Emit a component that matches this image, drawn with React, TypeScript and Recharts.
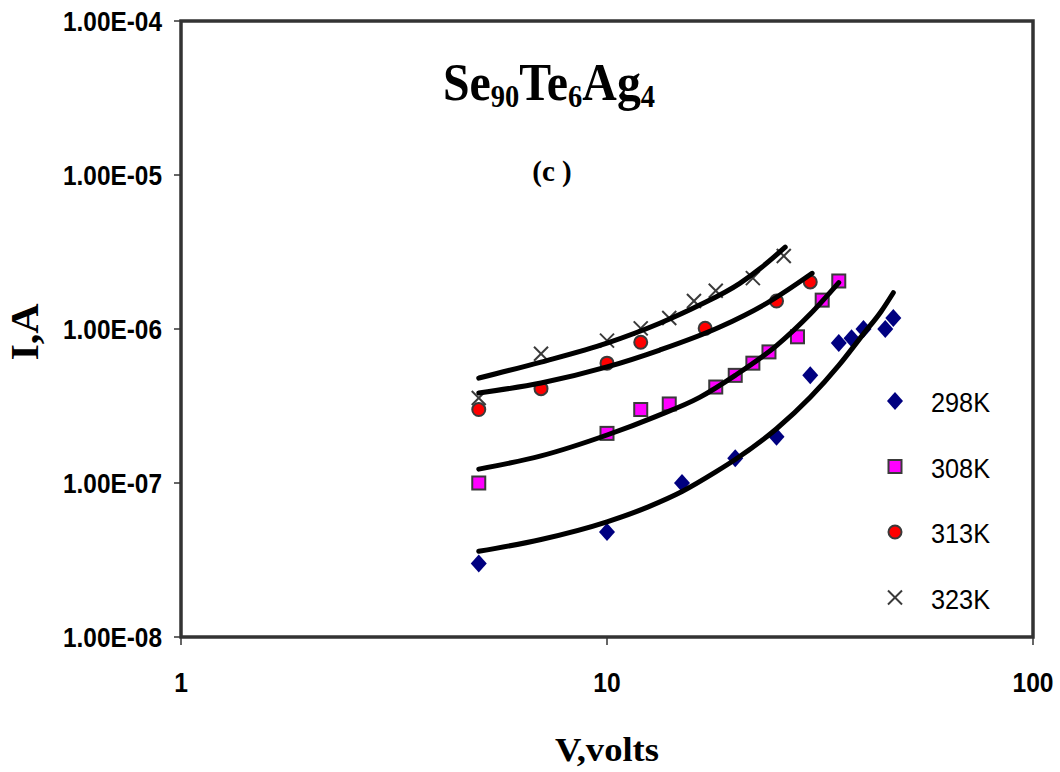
import React from "react";
import {
    ComposedChart,
    Scatter,
    XAxis,
    YAxis,
    ReferenceArea,
    Legend,
    Customized,
} from "recharts";

// measured points (V in volts, I in amps)
const v298 = [5, 10, 15, 20, 25, 30, 35, 37.5, 40, 45, 47];
const i298 = [3e-8, 4.8e-8, 1e-7, 1.45e-7, 2e-7, 5e-7, 8.1e-7, 8.7e-7, 1e-6, 1e-6, 1.18e-6];

const v308 = [5, 10, 12, 14, 18, 20, 22, 24, 28, 32, 35];
const i308 = [1e-7, 2.1e-7, 3e-7, 3.26e-7, 4.2e-7, 5e-7, 6e-7, 7.1e-7, 8.9e-7, 1.54e-6, 2.05e-6];

const v313 = [5, 7, 10, 12, 17, 25, 30];
const i313 = [3e-7, 4.1e-7, 6e-7, 8.2e-7, 1.01e-6, 1.52e-6, 2.02e-6];

const v323 = [5, 7, 10, 12, 14, 16, 18, 22, 26];
const i323 = [3.56e-7, 6.9e-7, 8.4e-7, 1.01e-6, 1.18e-6, 1.52e-6, 1.77e-6, 2.14e-6, 2.98e-6];

// fitted curves
const fitV298 = [5, 7, 10, 12.5, 15, 18, 20, 25, 30, 35, 40, 44, 47];
const fitI298 = [3.6e-8, 4.3e-8, 5.6e-8, 7.0e-8, 8.8e-8, 1.18e-7, 1.42e-7, 2.25e-7, 3.6e-7, 5.8e-7, 9.3e-7, 1.3e-6, 1.72e-6];

const fitV308 = [5, 7, 10, 13, 16.5, 20, 25, 30, 35];
const fitI308 = [1.23e-7, 1.5e-7, 2.05e-7, 2.7e-7, 3.6e-7, 5e-7, 7.8e-7, 1.25e-6, 2e-6];

const fitV313 = [5, 7, 10, 13.3, 18.4, 24, 30.3];
const fitI313 = [3.84e-7, 4.46e-7, 5.67e-7, 7.3e-7, 1.03e-6, 1.5e-6, 2.3e-6];

const fitV323 = [5, 7, 10, 13.3, 16.5, 20.5, 23, 26.2];
const fitI323 = [4.8e-7, 6.1e-7, 8.1e-7, 1.09e-6, 1.43e-6, 1.98e-6, 2.5e-6, 3.4e-6];

const xTicks = [1, 10, 100];
const yTicks = [1e-8, 1e-7, 1e-6, 1e-5, 1e-4];
const legendLabels = ["298K", "308K", "313K", "323K"];

const pts = (vs: number[], is: number[]) => vs.map((v, k) => ({ v, amp: is[k] }));

const SANS = "'Liberation Sans', Arial, sans-serif";
const SERIF = "'Liberation Serif', 'Times New Roman', serif";

const fmtE = (val: number) => {
    const e = Math.round(Math.log10(val));
    const sign = e < 0 ? "-" : "+";
    return `1.00E${sign}${String(Math.abs(e)).padStart(2, "0")}`;
};

const Diamond = ({ cx, cy }: any) => (
    <polygon
        points={`${cx},${cy - 9} ${cx + 8},${cy} ${cx},${cy + 9} ${cx - 8},${cy}`}
        fill="#000080"
    />
);
const Square = ({ cx, cy }: any) => (
    <rect x={cx - 6.5} y={cy - 6.5} width={13} height={13} fill="#ff00ff" stroke="#3a3a3a" strokeWidth={2} />
);
const Dot = ({ cx, cy }: any) => (
    <circle cx={cx} cy={cy} r={6.5} fill="#ff0000" stroke="#3a3a3a" strokeWidth={2} />
);
const Cross = ({ cx, cy }: any) => (
    <g stroke="#3a3a3a" strokeWidth={2}>
        <line x1={cx - 7} y1={cy - 7} x2={cx + 7} y2={cy + 7} />
        <line x1={cx - 7} y1={cy + 7} x2={cx + 7} y2={cy - 7} />
    </g>
);
const NoDot = () => <g />;

const YTick = ({ x, y, payload }: any) => (
    <text
        x={x}
        y={y}
        dy={10}
        textAnchor="end"
        fontFamily={SANS}
        fontWeight="bold"
        fontSize={28}
        textLength={99}
        lengthAdjust="spacingAndGlyphs"
        fill="#000"
    >
        {fmtE(payload.value)}
    </text>
);

const XTick = ({ x, y, payload }: any) => {
    const s = String(payload.value);
    return (
        <text
            x={x}
            y={y}
            dy={20}
            textAnchor="middle"
            fontFamily={SANS}
            fontWeight="bold"
            fontSize={28}
            textLength={13.7 * s.length}
            lengthAdjust="spacingAndGlyphs"
            fill="#000"
        >
            {s}
        </text>
    );
};

const Titles = () => (
    <g fontFamily={SERIF} fontWeight="bold" fill="#000">
        <g transform="translate(443,100) scale(0.92,1)">
            <text x={0} y={0} fontSize={52}>
                Se
                <tspan fontSize={31} dy={7}>90</tspan>
                <tspan dy={-7}>Te</tspan>
                <tspan fontSize={31} dy={7}>6</tspan>
                <tspan dy={-7}>Ag</tspan>
                <tspan fontSize={31} dy={7}>4</tspan>
            </text>
        </g>
        <text x={552} y={181} fontSize={29} textAnchor="middle">
            (c )
        </text>
        <text
            x={607}
            y={761}
            fontSize={34}
            textAnchor="middle"
            textLength={104}
            lengthAdjust="spacingAndGlyphs"
        >
            V,volts
        </text>
        <text
            transform="translate(38,332) rotate(-90)"
            x={0}
            y={0}
            fontSize={40}
            textAnchor="middle"
            textLength={57}
            lengthAdjust="spacingAndGlyphs"
        >
            I,A
        </text>
    </g>
);

const legendShapes = [Diamond, Square, Dot, Cross];

const LegendBox = () => (
    <svg width={160} height={240}>
        {legendLabels.map((lab, k) => {
            const Shape = legendShapes[k];
            const cy = 16 + k * 65.5;
            return (
                <g key={lab}>
                    <Shape cx={15} cy={cy} />
                    <text
                        x={51}
                        y={cy + 11}
                        fontFamily={SANS}
                        fontSize={28}
                        textLength={59}
                        lengthAdjust="spacingAndGlyphs"
                        fill="#000"
                    >
                        {lab}
                    </text>
                </g>
            );
        })}
    </svg>
);

const fitLine = { stroke: "#000", strokeWidth: 5, strokeLinejoin: "round" as const, strokeLinecap: "round" as const };

export default function App() {
    return (
        <div style={{ position: "absolute", left: 0, top: 0, width: 1060, height: 772, background: "#fff" }}>
            <ComposedChart
                width={1060}
                height={772}
                margin={{ top: 21, right: 27, bottom: 0, left: 0 }}
            >
                <XAxis
                    dataKey="v"
                    type="number"
                    scale="log"
                    domain={[1, 100]}
                    ticks={xTicks}
                    allowDataOverflow
                    height={135}
                    axisLine={false}
                    tickLine={{ stroke: "#333", strokeWidth: 1.5 }}
                    tickSize={8}
                    tickMargin={27}
                    tick={<XTick />}
                />
                <YAxis
                    dataKey="amp"
                    type="number"
                    scale="log"
                    domain={[1e-8, 1e-4]}
                    ticks={yTicks}
                    allowDataOverflow
                    width={181}
                    axisLine={false}
                    tickLine={{ stroke: "#333", strokeWidth: 1.5 }}
                    tickSize={7}
                    tickMargin={12}
                    tick={<YTick />}
                />
                <ReferenceArea
                    x1={1}
                    x2={100}
                    y1={1e-8}
                    y2={1e-4}
                    fill="none"
                    fillOpacity={0}
                    stroke="#333"
                    strokeWidth={3.5}
                />
                <Scatter name="298K" data={pts(v298, i298)} shape={Diamond} isAnimationActive={false} />
                <Scatter name="308K" data={pts(v308, i308)} shape={Square} isAnimationActive={false} />
                <Scatter name="313K" data={pts(v313, i313)} shape={Dot} isAnimationActive={false} />
                <Scatter name="323K" data={pts(v323, i323)} shape={Cross} isAnimationActive={false} />
                <Scatter data={pts(fitV298, fitI298)} line={fitLine} lineJointType="monotoneX" shape={NoDot} legendType="none" isAnimationActive={false} />
                <Scatter data={pts(fitV308, fitI308)} line={fitLine} lineJointType="monotoneX" shape={NoDot} legendType="none" isAnimationActive={false} />
                <Scatter data={pts(fitV313, fitI313)} line={fitLine} lineJointType="monotoneX" shape={NoDot} legendType="none" isAnimationActive={false} />
                <Scatter data={pts(fitV323, fitI323)} line={fitLine} lineJointType="monotoneX" shape={NoDot} legendType="none" isAnimationActive={false} />
                <Customized component={Titles} />
                <Legend
                    layout="horizontal"
                    verticalAlign="middle"
                    align="center"
                    content={() => <LegendBox />}
                    wrapperStyle={{ position: "absolute", left: 880, top: 385, width: 160, height: 240 }}
                />
            </ComposedChart>
        </div>
    );
}
